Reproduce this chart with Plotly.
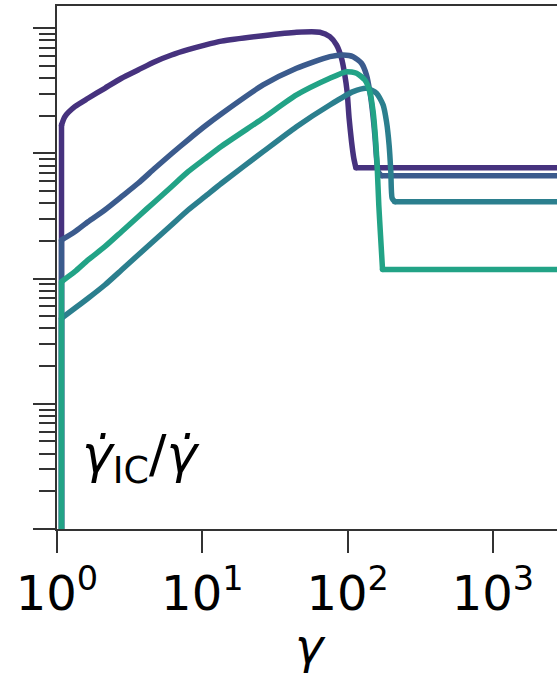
import plotly.graph_objects as go

# Lorentz factor samples and IC cooling-rate fraction for each run
gamma_a = [1.074, 1.074, 1.132, 1.326, 1.637, 2.133, 2.779, 3.615, 4.711, 6.138, 7.985, 10.40,
           13.56, 26.21, 44.50, 64.40, 75.43, 83.86, 90.78, 95.65, 99.2, 102.4,
           106.4, 110.3, 113.9, 3000]
ratio_a = [1e-6, 0.1685, 0.1964, 0.2360, 0.2754, 0.3311, 0.3980, 0.4635, 0.5400, 0.6107, 0.6735, 0.7328,
           0.7875, 0.8712, 0.9275, 0.9275, 0.8553, 0.7341, 0.5747, 0.4229, 0.3111, 0.1907,
           0.1241, 0.0914, 0.0769, 0.0769]

gamma_b = [1.074, 1.074, 1.326, 1.637, 2.133, 2.779, 3.615, 4.711, 6.138, 7.985, 10.40, 13.56,
           26.21, 44.50, 75.43, 93.11, 109.1, 124.6, 134.9, 142.2, 148.4, 153.9, 158.1,
           162.2, 171.1, 3000]
ratio_b = [1e-6, 0.02034, 0.02369, 0.02847, 0.03531, 0.04510, 0.05771, 0.07603, 0.0993, 0.1284, 0.1646, 0.2072,
           0.3517, 0.4783, 0.5922, 0.6107, 0.5922, 0.5243, 0.4229, 0.3111, 0.2154, 0.1403, 0.0914,
           0.0714, 0.0662, 0.0662]

gamma_c = [1.074, 1.074, 1.326, 1.637, 2.133, 2.779, 3.615, 4.711, 6.138, 7.985, 10.40, 13.56,
           26.21, 44.50, 75.43, 109.1, 134.9, 158.1, 175.6, 185.2, 193.0, 198.3, 202.5,
           211.3, 3000]
ratio_c = [1e-6, 0.004818, 0.005791, 0.006963, 0.008889, 0.01171, 0.01543, 0.02034, 0.02680, 0.03531, 0.04510, 0.05771,
           0.1032, 0.1634, 0.2435, 0.3111, 0.3311, 0.3020, 0.2435, 0.1792, 0.1167, 0.0714, 0.0438,
           0.0411, 0.0411]

gamma_d = [1.074, 1.074, 1.326, 1.637, 2.133, 2.779, 3.615, 4.711, 6.138, 7.985, 10.40, 13.56,
           26.21, 44.50, 75.43, 98.26, 115.2, 131.3, 142.2, 149.8, 155.6, 159.6, 163.9,
           168.4, 173.9, 3000]
ratio_d = [1e-6, 0.00945, 0.01135, 0.01408, 0.01798, 0.02369, 0.03122, 0.04113, 0.05420, 0.0714, 0.0904, 0.1140,
           0.1907, 0.2928, 0.3980, 0.4493, 0.4363, 0.3859, 0.3111, 0.2154, 0.1320, 0.0808, 0.0387,
           0.02229, 0.0118, 0.0118]

series = [
    (gamma_a, ratio_a, "#46327e"),
    (gamma_b, ratio_b, "#3b5b8d"),
    (gamma_c, ratio_c, "#2b7f8e"),
    (gamma_d, ratio_d, "#22a386"),
]

x_tickvals = [1, 10, 100, 1000]
x_ticktext = ["10<sup>0</sup>", "10<sup>1</sup>", "10<sup>2</sup>", "10<sup>3</sup>"]

LW = 5.5

fig = go.Figure()
for gx, ry, col in series:
    # injection edge: straight vertical rise at the lowest Lorentz factor
    fig.add_trace(go.Scatter(x=gx[:2], y=ry[:2], mode="lines+markers",
                             line=dict(color=col, width=LW),
                             marker=dict(color=col, size=LW, line=dict(width=0)),
                             showlegend=False, hoverinfo="skip"))
    # smooth body of the curve, through the peak and the cutoff drop
    fig.add_trace(go.Scatter(x=gx[1:-1], y=ry[1:-1], mode="lines",
                             line=dict(color=col, width=LW, shape="spline", smoothing=0.6),
                             showlegend=False, hoverinfo="skip"))
    # flat tail above the cutoff
    fig.add_trace(go.Scatter(x=gx[-2:], y=ry[-2:], mode="lines+markers",
                             line=dict(color=col, width=LW),
                             marker=dict(color=col, size=LW, line=dict(width=0)),
                             showlegend=False, hoverinfo="skip"))

axis_col = "#333333"
font_main = "DejaVu Sans"

fig.update_layout(
    width=557, height=675,
    margin=dict(l=57, r=0, t=6, b=146),
    paper_bgcolor="white", plot_bgcolor="white",
    font=dict(family=font_main, color="black"),
    xaxis=dict(
        type="log", range=[0, 3.441],
        showgrid=False, zeroline=False,
        showline=True, linecolor=axis_col, linewidth=1.6, mirror=True,
        ticks="outside", ticklen=22, tickwidth=1.6, tickcolor=axis_col,
        tickvals=x_tickvals, ticktext=x_ticktext,
        tickfont=dict(family=font_main, size=48, color="black"),
    ),
    yaxis=dict(
        type="log", range=[-4, 0.177],
        showgrid=False, zeroline=False,
        showline=True, linecolor=axis_col, linewidth=1.6, mirror=False,
        ticks="outside", ticklen=22, tickwidth=1.6, tickcolor=axis_col,
        dtick=1, showticklabels=False,
        minor=dict(ticks="outside", ticklen=16, tickwidth=1.6, tickcolor=axis_col,
                   dtick="D1", showgrid=False),
    ),
    annotations=[
        dict(text="<i>γ</i>", xref="paper", yref="paper", x=0.506, y=-0.224,
             xanchor="center", yanchor="middle", showarrow=False,
             font=dict(family=font_main, size=48, color="black")),
        dict(text="<i>γ̇</i><sub>IC</sub>/<i>γ̇</i>", xref="paper", yref="paper",
             x=0.046, y=0.135, xanchor="left", yanchor="middle", showarrow=False,
             font=dict(family=font_main, size=52, color="black")),
    ],
)

fig.write_html("out.html")
